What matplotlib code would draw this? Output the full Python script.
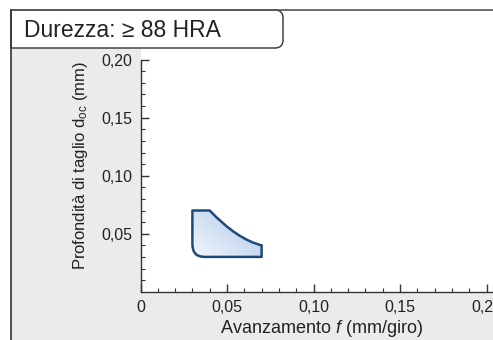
import matplotlib
matplotlib.use('Agg')
import matplotlib.pyplot as plt
from matplotlib.path import Path
from matplotlib.patches import PathPatch, Rectangle
from matplotlib.lines import Line2D
from matplotlib.colors import LinearSegmentedColormap
from matplotlib.ticker import MultipleLocator, FixedLocator
import numpy as np

plt.rcParams['font.family'] = ['Liberation Sans', 'DejaVu Sans']
plt.rcParams['mathtext.fontset'] = 'custom'
plt.rcParams['mathtext.rm'] = 'Liberation Sans'
plt.rcParams['mathtext.it'] = 'Liberation Sans:italic'

# ---- data ----
title_text = 'Durezza: ≥ 88 HRA'
xlabel_text = 'Avanzamento $\\mathit{f}$ (mm/giro)'
ylabel_text = 'Profondità di taglio d$_{\\mathregular{oc}}$ (mm)'
feed_ticks = [0, 0.05, 0.10, 0.15, 0.20]
feed_labels = ['0', '0,05', '0,10', '0,15', '0,20']
doc_ticks = [0.05, 0.10, 0.15, 0.20]
doc_labels = ['0,05', '0,10', '0,15', '0,20']
doc_minor = [0.01, 0.02, 0.03, 0.04, 0.06, 0.07, 0.08, 0.09, 0.11, 0.12,
             0.13, 0.14, 0.16, 0.17, 0.18, 0.19]
# application region outline (feed f, depth of cut doc)
region_f = [0.030, 0.040, 0.056, 0.070, 0.070, 0.037, 0.030, 0.030, 0.030]
region_doc = [0.070, 0.070, 0.045, 0.040, 0.030, 0.030, 0.030, 0.041, 0.070]

# ---- layout helpers (pixels) ----
W, H = 493, 340
fig = plt.figure(figsize=(W / 100, H / 100), dpi=100)
fig.patch.set_facecolor('white')

def fx(x):
    return x / W

def fy(y):
    return 1 - y / H

# gray panel background
fig.add_artist(Rectangle((fx(11), 0), 1 - fx(11), fy(10), transform=fig.transFigure,
                         facecolor='#ebebeb', edgecolor='none', zorder=-1))

ax = fig.add_axes([fx(140.5), fy(291.7), fx(493) - fx(140.5), fy(10) - fy(291.7)])
ax.set_facecolor('white')
ax.set_zorder(0)

# region
codes = [Path.MOVETO, Path.LINETO, Path.CURVE3, Path.CURVE3, Path.LINETO,
         Path.LINETO, Path.CURVE3, Path.CURVE3, Path.CLOSEPOLY]
path = Path(np.column_stack([region_f, region_doc]), codes)
outline = PathPatch(path, facecolor='none', edgecolor='#1d4a7d', lw=1.8,
                    joinstyle='round', zorder=3)
ax.add_patch(outline)
cmap = LinearSegmentedColormap.from_list('g', ['#f2f6fc', '#adc6e8'])
u = np.linspace(0, 1, 64)
grad = (u[None, :] * 0.55 + u[:, None] * 0.45)
fmin, fmax = min(region_f), max(region_f)
dmin, dmax = min(region_doc), max(region_doc)
im = ax.imshow(grad, extent=[fmin, fmax, dmin, dmax], origin='lower', cmap=cmap,
               aspect='auto', interpolation='bilinear', zorder=2)
im.set_clip_path(outline)

ax.set_xlim(0, (493 - 140.5) / 17.3 * 0.01)
ax.set_ylim(0, (291.7 - 10) / 11.6 * 0.01)

for s in ['top', 'right']:
    ax.spines[s].set_visible(False)
ax.spines['left'].set_bounds(0, 0.20)
for s in ['left', 'bottom']:
    ax.spines[s].set_color('#333333')
    ax.spines[s].set_linewidth(1.0)

ax.set_xticks(feed_ticks)
ax.set_xticklabels(feed_labels)
ax.set_yticks(doc_ticks)
ax.set_yticklabels(doc_labels)
ax.xaxis.set_minor_locator(MultipleLocator(0.01))
ax.yaxis.set_minor_locator(FixedLocator(doc_minor))
ax.tick_params(which='both', direction='in', colors='#333333', labelcolor='#222222')
ax.tick_params(which='major', length=5.5, width=1.0, labelsize=11.5, pad=6)
ax.tick_params(which='minor', length=2.8, width=0.8)

# title box with rounded right corners
x0, x1, y0, y1, r = 11, 283, 10, 48, 8
verts = [(x0, y0), (x1 - r, y0), (x1, y0), (x1, y0 + r), (x1, y1 - r), (x1, y1),
         (x1 - r, y1), (x0, y1), (x0, y0)]
bcodes = [Path.MOVETO, Path.LINETO, Path.CURVE3, Path.CURVE3, Path.LINETO,
          Path.CURVE3, Path.CURVE3, Path.LINETO, Path.CLOSEPOLY]
bpath = Path([(fx(a), fy(b)) for a, b in verts], bcodes)
fig.add_artist(PathPatch(bpath, transform=fig.transFigure, facecolor='white',
                         edgecolor='#333333', lw=1.0, zorder=5))

# outer frame lines
fig.add_artist(Line2D([fx(11), 1], [fy(10), fy(10)], transform=fig.transFigure,
                      color='#555555', lw=1.2, zorder=6))
fig.add_artist(Line2D([fx(11), fx(11)], [fy(10), 0], transform=fig.transFigure,
                      color='#333333', lw=1.2, zorder=6))

fig.text(fx(24), fy(36.7), title_text, fontsize=16.5, color='#222222',
         va='baseline', ha='left', zorder=7)
fig.text(fx(80), fy(166), ylabel_text, rotation=90, ha='center', va='center',
         fontsize=12, color='#222222')
fig.text(fx(321), fy(333), xlabel_text, ha='center', va='baseline',
         fontsize=13, color='#222222')

fig.savefig('out.png', dpi=100, facecolor='white')
